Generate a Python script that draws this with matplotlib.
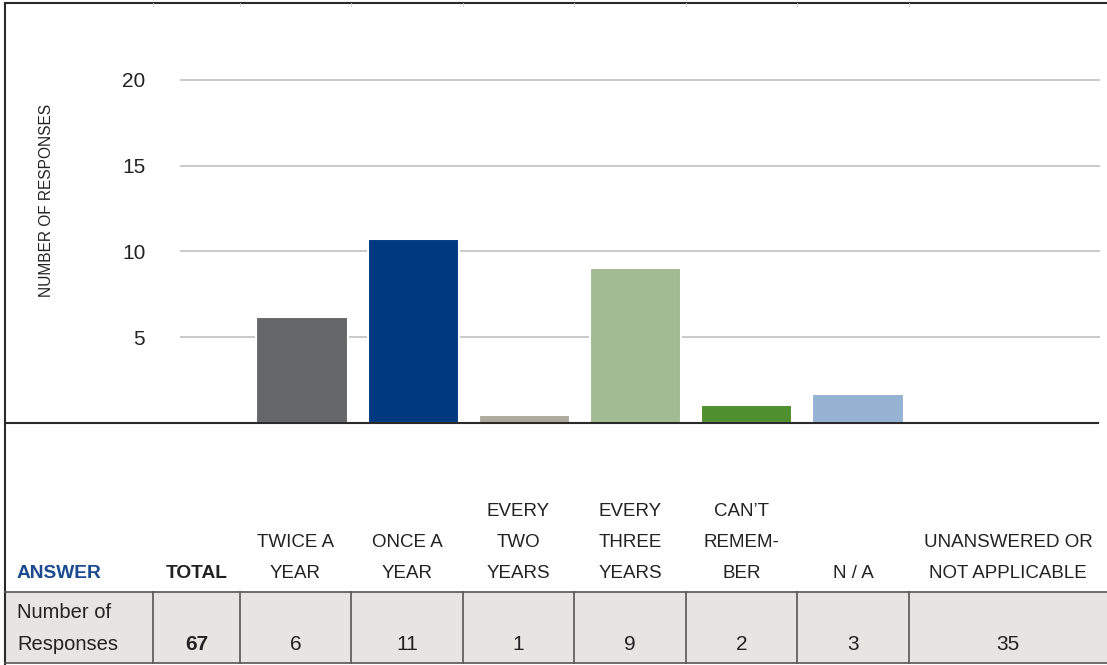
import matplotlib.pyplot as plt
from matplotlib.lines import Line2D
from matplotlib.patches import Rectangle
import numpy as np

# data
categories = ["TWICE A\nYEAR", "ONCE A\nYEAR", "EVERY\nTWO\nYEARS", "EVERY\nTHREE\nYEARS",
              "CAN’T\nREMEM-\nBER", "N / A"]
bar_heights = [6.2, 10.7, 0.48, 9.05, 1.05, 1.67]
bar_colors = ["#666769", "#00397f", "#aeaa9d", "#a3bb92", "#4f8f2e", "#96b3d3"]
y_ticks = [5, 10, 15, 20]

table_headers = ["TOTAL"] + categories + ["UNANSWERED OR\nNOT APPLICABLE"]
table_counts = [67, 6, 11, 1, 9, 2, 3, 35]

plt.rcParams['font.family'] = ['Liberation Sans Narrow', 'Liberation Sans', 'DejaVu Sans']

W, H = 1107, 665
fig = plt.figure(figsize=(W / 100, H / 100), dpi=100)


def fx(x):
    return x / W


def fy(y):
    return 1 - y / H


# chart area
ax = fig.add_axes([fx(180), fy(423), (1100 - 180) / W, (423 - 71.4) / H])
x = np.arange(1, len(categories) + 1)
ax.bar(x, bar_heights, width=0.82, color=bar_colors, edgecolor="white", linewidth=1.5, zorder=3)
ax.set_xlim(-0.097, 8.176)
ax.set_ylim(0, 20.5)
ax.set_yticks(y_ticks)
ax.set_yticklabels([str(t) for t in y_ticks], fontsize=15, color="#222222")
ax.tick_params(axis="y", length=0, pad=25)
ax.set_xticks([])
ax.grid(axis="y", color="#c6c6c6", linewidth=1.3, zorder=0)
for s in ax.spines.values():
    s.set_visible(False)
ax.patch.set_alpha(0)

fig.text(fx(47), fy(200), "NUMBER OF RESPONSES", rotation=90, ha="center", va="center",
         fontsize=11.2, color="#222222")

# frame lines
line_kw = dict(transform=fig.transFigure, color="#2a2a2a", linewidth=1.5)
fig.add_artist(Line2D([fx(5), fx(1107)], [fy(3), fy(3)], **line_kw))
fig.add_artist(Line2D([fx(5), fx(5)], [fy(3), fy(665)], **line_kw))
fig.add_artist(Line2D([fx(5), fx(1098)], [fy(423), fy(423)], **line_kw))

# table
col_edges = [5, 153, 240, 351, 463, 574, 686, 797, 909, 1107]
fig.add_artist(Rectangle((fx(5), fy(663)), (1107 - 5) / W, (663 - 592) / H,
                         transform=fig.transFigure, facecolor="#e6e5e1", edgecolor="none"))
fig.add_artist(Line2D([fx(5), fx(1107)], [fy(592), fy(592)], transform=fig.transFigure,
                      color="#555555", linewidth=1.2))
fig.add_artist(Line2D([fx(5), fx(1107)], [fy(663), fy(663)], transform=fig.transFigure,
                      color="#555555", linewidth=1.2))
for e in col_edges[1:-1]:
    fig.add_artist(Line2D([fx(e), fx(e)], [fy(592), fy(663)], transform=fig.transFigure,
                          color="#555555", linewidth=1.2))
    fig.add_artist(Line2D([fx(e), fx(e)], [fy(3), fy(6)], transform=fig.transFigure,
                          color="#d0d0d0", linewidth=0.6))

fs = 13.5
line_gap = 31.5
fig.text(fx(17), fy(574), "ANSWER", ha="left", va="center", fontsize=13.8,
         fontweight="bold", color="#1b4a8e")
for i, label in enumerate(table_headers):
    cx = (col_edges[i + 1] + col_edges[i + 2]) / 2
    lines = label.split("\n")
    for j, ln in enumerate(reversed(lines)):
        fig.text(fx(cx), fy(574 - j * line_gap), ln, ha="center", va="center",
                 fontsize=13.8 if i == 0 else fs,
                 color="#222222", fontweight="bold" if i == 0 else "normal")

fig.text(fx(17), fy(613), "Number of", ha="left", va="center", fontsize=14.5, color="#222222")
fig.text(fx(17), fy(645), "Responses", ha="left", va="center", fontsize=14.5, color="#222222")
for i, v in enumerate(table_counts):
    cx = (col_edges[i + 1] + col_edges[i + 2]) / 2
    fig.text(fx(cx), fy(645), str(v), ha="center", va="center", fontsize=15,
             color="#222222", fontweight="bold" if i == 0 else "normal")

fig.savefig("out.png", dpi=100)
